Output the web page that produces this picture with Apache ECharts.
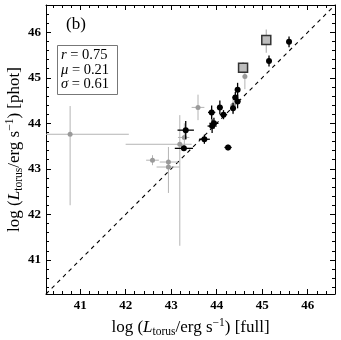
<!DOCTYPE html>
<html><head><meta charset="utf-8">
<script src="https://cdn.jsdelivr.net/npm/echarts@6/dist/echarts.min.js"></script>
<style>html,body{margin:0;padding:0;background:#fff}#c{width:341px;height:340px}</style>
</head><body><div id="c"></div>
<script>
// ---- data ----
var majorTicks = [41, 42, 43, 44, 45, 46];
var axisMin = 40.25, axisMax = 46.6;
var oneToOne = [[40.25, 40.25], [46.6, 46.6]];

// black points (full, phot) with symmetric errors
var blackX    = [44.46, 44.41, 44.46, 44.36, 44.07, 44.15, 43.89, 43.94, 43.90, 43.73, 44.25, 43.32, 43.28, 45.15, 45.59];
var blackY    = [44.74, 44.57, 44.48, 44.33, 44.35, 44.19, 44.24, 44.00, 43.94, 43.65, 43.47, 43.85, 43.45, 45.37, 45.79];
var blackXErr = [0.05, 0.06, 0.06, 0.06, 0.06, 0.08, 0.08, 0.10, 0.10, 0.12, 0.08, 0.18, 0.20, 0.03, 0.03];
var blackYErr = [0.15, 0.12, 0.15, 0.12, 0.15, 0.10, 0.15, 0.12, 0.15, 0.10, 0.06, 0.20, 0.06, 0.12, 0.12];

// grey points with asymmetric error bars
var grayX   = [40.78, 42.59, 42.94, 42.94, 43.19, 43.29, 43.59, 44.62, 44.36];
var grayY   = [43.76, 43.19, 43.15, 43.04, 43.54, 43.69, 44.35, 45.03, 44.40];
var grayXLo = [40.10, 42.45, 42.75, 42.68, 42.00, 43.15, 43.45, 44.58, 44.30];
var grayXHi = [42.07, 42.73, 43.15, 43.19, 43.45, 43.40, 43.73, 44.66, 44.42];
var grayYLo = [42.20, 43.08, 42.47, 42.95, 41.31, 43.40, 44.07, 44.75, 44.20];
var grayYHi = [44.38, 43.30, 43.48, 43.12, 44.18, 44.00, 44.63, 45.25, 44.55];

// boxed points
var boxX   = [44.58, 45.09];
var boxY   = [45.22, 45.83];
var boxYLo = [45.10, 45.55];
var boxYHi = [45.35, 46.06];

// ---- build ----
var blackErr = blackX.map(function (x, i) {
  return [x, blackY[i], x - blackXErr[i], x + blackXErr[i], blackY[i] - blackYErr[i], blackY[i] + blackYErr[i]];
});
var blackPts = blackX.map(function (x, i) { return [x, blackY[i]]; });
var grayErr = grayX.map(function (x, i) {
  return [x, grayY[i], grayXLo[i], grayXHi[i], grayYLo[i], grayYHi[i]];
});
var grayPts = grayX.map(function (x, i) { return [x, grayY[i]]; });
var boxErr = boxX.map(function (x, i) { return [x, boxY[i], x, x, boxYLo[i], boxYHi[i]]; });
var boxPts = boxX.map(function (x, i) { return [x, boxY[i]]; });

var minorTicks = [];
for (var t = 40.4; t < axisMax; t += 0.2) {
  var v = Math.round(t * 10) / 10;
  if (Math.abs(v - Math.round(v)) > 1e-6) minorTicks.push(v);
}

var FONT = 'Liberation Serif';

function errRender(color, width) {
  return function (params, api) {
    var x = api.value(0), y = api.value(1);
    var a = api.coord([api.value(2), y]), b = api.coord([api.value(3), y]);
    var c = api.coord([x, api.value(4)]), d = api.coord([x, api.value(5)]);
    return {
      type: 'group',
      children: [
        { type: 'line', shape: { x1: a[0], y1: a[1], x2: b[0], y2: b[1] }, style: { stroke: color, lineWidth: width } },
        { type: 'line', shape: { x1: c[0], y1: c[1], x2: d[0], y2: d[1] }, style: { stroke: color, lineWidth: width } }
      ]
    };
  };
}

var titleRich = {
  n: { fontFamily: FONT, fontSize: 17, color: '#000' },
  it: { fontFamily: FONT, fontSize: 17, fontStyle: 'italic', color: '#000' },
  sub: { fontFamily: FONT, fontSize: 11.5, color: '#000', padding: [9, 0, 0, 0] },
  sup: { fontFamily: FONT, fontSize: 11.5, color: '#000', padding: [0, 0, 9, 0] }
};
function axisTitle(tag) {
  return '{n|log (}{it|L}{sub|torus}{n|/erg s}{sup|−1}{n|) [' + tag + ']}';
}

function mkAxis(pos, isX, major, withLabel, withLine, name) {
  var ax = {
    type: 'value', position: pos, min: axisMin, max: axisMax,
    splitLine: { show: false },
    axisLine: { show: withLine, onZero: false, lineStyle: { color: '#000', width: 1 } },
    axisTick: { show: true, inside: true, length: major ? 5 : 3, customValues: major ? majorTicks : minorTicks,
                lineStyle: { color: '#000', width: 1 } },
    axisLabel: { show: withLabel, customValues: majorTicks, fontFamily: FONT, fontSize: 13, fontWeight: 'bold',
                 color: '#000', margin: 5 },
    axisPointer: { show: false }
  };
  if (name) {
    ax.name = name;
    ax.nameLocation = 'middle';
    ax.nameGap = isX ? 22 : 21;
    ax.nameTextStyle = { rich: titleRich };
    if (!isX) { ax.nameRotate = 90; ax.nameMoveOverlap = false; }
  }
  return ax;
}

var chart = echarts.init(document.getElementById('c'), null, { renderer: 'canvas' });
chart.setOption({
  animation: false,
  backgroundColor: '#fff',
  grid: { left: 46, right: 6, top: 5, bottom: 46, containLabel: false, outerBoundsMode: 'none' },
  title: [
    { text: '(b)', left: 61, top: 11, textStyle: { fontFamily: FONT, fontSize: 17, fontWeight: 'normal', color: '#000' } },
    {
      text: '{i|r}{n| = 0.75}\n{i|μ}{n| = 0.21}\n{i|σ}{n| = 0.61}',
      left: 57, top: 45, padding: [3, 9, 3, 4],
      borderColor: '#777', borderWidth: 1, backgroundColor: '#fff',
      textStyle: {
        fontWeight: 'normal',
        rich: {
          i: { fontFamily: FONT, fontSize: 14.5, fontStyle: 'italic', fontWeight: 'normal', color: '#000', lineHeight: 14.5 },
          n: { fontFamily: FONT, fontSize: 14.5, fontWeight: 'normal', color: '#000', lineHeight: 14.5 }
        }
      }
    }
  ],
  xAxis: [
    mkAxis('bottom', true, true, true, true, axisTitle('full')),
    mkAxis('bottom', true, false, false, false),
    mkAxis('top', true, true, false, true),
    mkAxis('top', true, false, false, false)
  ],
  yAxis: [
    mkAxis('left', false, true, true, true, axisTitle('phot')),
    mkAxis('left', false, false, false, false),
    mkAxis('right', false, true, false, true),
    mkAxis('right', false, false, false, false)
  ],
  series: [
    { type: 'line', data: oneToOne, symbol: 'none', silent: true,
      lineStyle: { color: '#000', width: 1.1, type: [4, 4] }, z: 1 },
    { type: 'custom', data: grayErr, renderItem: errRender('#b4b4b4', 1), clip: true, z: 2, silent: true },
    { type: 'custom', data: boxErr, renderItem: errRender('#b4b4b4', 1.2), clip: true, z: 2, silent: true },
    { type: 'scatter', data: grayPts, symbol: 'circle', symbolSize: 5, itemStyle: { color: '#9a9a9a', opacity: 1 }, z: 3, silent: true },
    { type: 'custom', data: blackErr, renderItem: errRender('#000', 1.3), clip: true, z: 4, silent: true },
    { type: 'scatter', data: blackPts, symbol: 'circle', symbolSize: 6, itemStyle: { color: '#000', opacity: 1 }, z: 5, silent: true },
    { type: 'scatter', data: boxPts, symbol: 'rect', symbolSize: 9,
      itemStyle: { color: '#bdbdbd', borderColor: '#333', borderWidth: 1.5, opacity: 1 }, z: 6, silent: true }
  ]
});
</script></body></html>
